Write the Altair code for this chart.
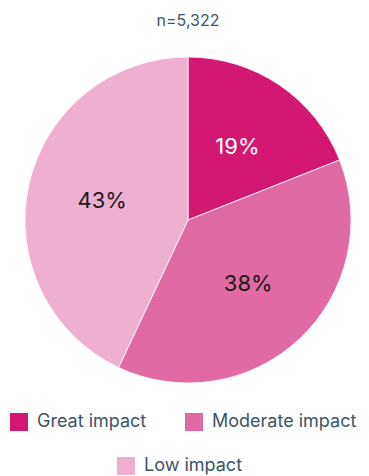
import altair as alt
import pandas as pd

categories = ["Great impact", "Moderate impact", "Low impact"]
values = [19, 38, 43]
labels = ["19%", "38%", "43%"]
colors = ["#D31872", "#E06AA3", "#EFAFD0"]

df = pd.DataFrame({"category": categories, "value": values, "label": labels,
                   "order": [0, 1, 2]})

FONT = "Inter"
TXT = "#3D5466"

base = alt.Chart(df).encode(
    theta=alt.Theta("value:Q", stack=True),
    order=alt.Order("order:Q"),
)


def legend(vals, x, y):
    return alt.Legend(
        title=None, orient="none", legendX=x, legendY=y,
        direction="horizontal", values=vals,
        symbolType="square", symbolSize=324, symbolStrokeWidth=0,
        symbolOpacity=1,
        labelFont=FONT, labelFontSize=18, labelColor=TXT,
        labelOffset=9, columnPadding=38, labelLimit=300,
    )


pie_low = base.mark_arc(outerRadius=163, stroke="white", strokeWidth=0.8).encode(
    color=alt.Color("category:N", scale=alt.Scale(domain=categories, range=colors),
                    legend=legend(["Low impact"], 92, 400))
)

pie = base.mark_arc(outerRadius=163, stroke="white", strokeWidth=0.8).encode(
    color=alt.Color("category:N", scale=alt.Scale(domain=categories, range=colors),
                    legend=legend(["Great impact", "Moderate impact"], -15, 356))
)

text = base.mark_text(radius=88, font=FONT, fontSize=22).encode(
    text="label:N",
    color=alt.condition(alt.datum.category == "Great impact",
                        alt.value("white"), alt.value("#1a1a1a")),
)

chart = alt.layer(pie_low, pie, text).resolve_scale(color="independent").properties(
    width=326, height=326,
    padding={"top": 57, "left": 25, "right": 18, "bottom": 93},
    autosize=alt.AutoSizeParams(type="none"),
    title=alt.TitleParams("n=5,322", font=FONT, fontSize=16, color=TXT,
                          fontWeight="normal", anchor="middle", offset=26),
).configure_view(stroke=None)

chart.save("out.html", embed_options={"renderer": "svg", "actions": False})
